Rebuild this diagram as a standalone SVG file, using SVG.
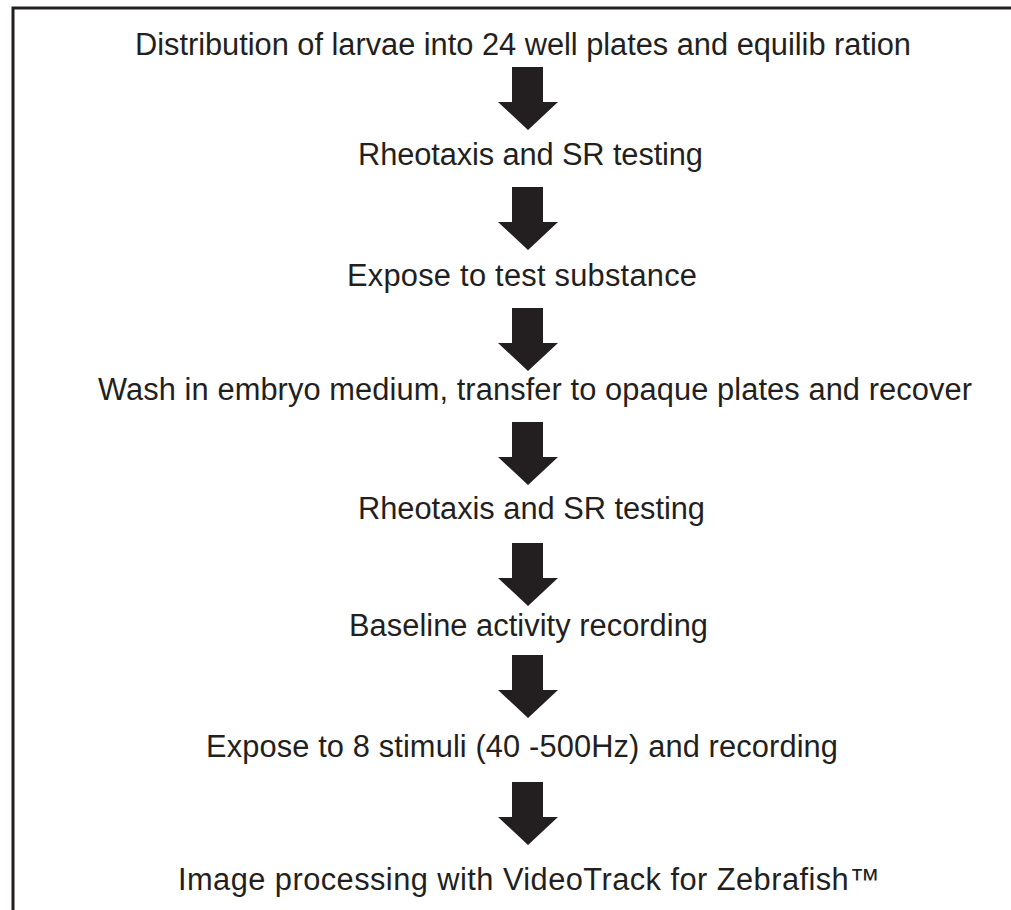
<svg xmlns="http://www.w3.org/2000/svg" width="1011" height="910" viewBox="0 0 1011 910">
<style>
.lbl{font-family:"Liberation Sans",Arial,Helvetica,sans-serif;font-size:30.8px;fill:#231f20}
.arr{fill:#231f20}
</style>
<defs>
<path id="arrow" d="M512,0 H543 V35 H558 L528,63 L498,35 H512 Z"/>
</defs>
<rect x="0" y="0" width="1011" height="910" fill="#ffffff"/>
<rect x="13" y="8" width="1010" height="920" fill="none" stroke="#231f20" stroke-width="3"/>
<g id="connectors" class="arr">
<use href="#arrow" y="67"/>
<use href="#arrow" y="187"/>
<use href="#arrow" y="308"/>
<use href="#arrow" y="422"/>
<use href="#arrow" y="543"/>
<use href="#arrow" y="655"/>
<use href="#arrow" y="782"/>
</g>
<g id="step1"><text class="lbl" x="135" y="55" textLength="776" lengthAdjust="spacing">Distribution of larvae into 24 well plates and equilib ration</text></g>
<g id="step2"><text class="lbl" x="358" y="165" textLength="345" lengthAdjust="spacing">Rheotaxis and SR testing</text></g>
<g id="step3"><text class="lbl" x="347" y="286" textLength="350" lengthAdjust="spacing">Expose to test substance</text></g>
<g id="step4"><text class="lbl" x="98" y="400" textLength="874" lengthAdjust="spacing">Wash in embryo medium, transfer to opaque plates and recover</text></g>
<g id="step5"><text class="lbl" x="358" y="519" textLength="347" lengthAdjust="spacing">Rheotaxis and SR testing</text></g>
<g id="step6"><text class="lbl" x="349" y="636" textLength="359" lengthAdjust="spacing">Baseline activity recording</text></g>
<g id="step7"><text class="lbl" x="206" y="757" textLength="632" lengthAdjust="spacing">Expose to 8 stimuli (40 -500Hz) and recording</text></g>
<g id="step8"><text class="lbl" x="178" y="890" textLength="702" lengthAdjust="spacing">Image processing with VideoTrack for Zebrafish™</text></g>
</svg>
